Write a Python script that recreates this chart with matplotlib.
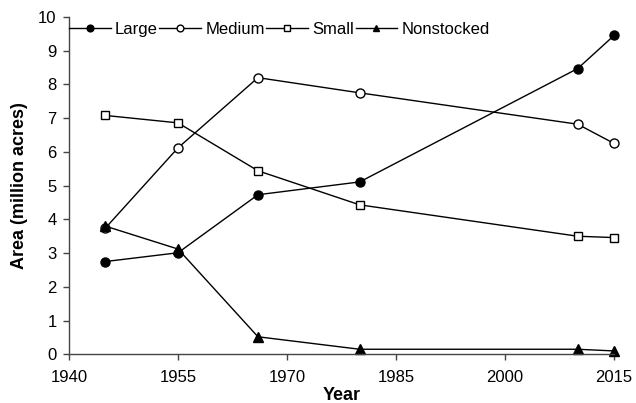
import matplotlib
matplotlib.use("Agg")
import matplotlib.pyplot as plt

plt.rcParams['font.family'] = ['Liberation Sans', 'DejaVu Sans']

years = [1945, 1955, 1966, 1980, 2010, 2015]
large = [2.75, 3.01, 4.73, 5.11, 8.47, 9.45]
medium = [3.74, 6.12, 8.2, 7.75, 6.82, 6.25]
small = [7.08, 6.86, 5.44, 4.43, 3.5, 3.46]
nonstocked = [3.8, 3.12, 0.52, 0.15, 0.15, 0.1]

fig = plt.figure(figsize=(6.36, 4.03), dpi=100)
ax = fig.add_axes([0.1085, 0.1208, 0.857, 0.8372])

kw = dict(color="black", lw=1, mec="black", mew=1, clip_on=False)
ax.plot(years, large, marker="o", ms=6.5, mfc="black", label="Large", **kw)
ax.plot(years, medium, marker="o", ms=6.5, mfc="white", label="Medium", **kw)
ax.plot(years, small, marker="s", ms=5.5, mfc="white", label="Small", **kw)
ax.plot(years, nonstocked, marker="^", ms=6.5, mfc="black", label="Nonstocked", **kw)

ax.set_xlim(1940, 2015)
ax.set_ylim(0, 10)
ax.set_xticks(range(1940, 2016, 15))
ax.set_yticks(range(0, 11))
ax.tick_params(labelsize=12, length=4, width=1, color="#444444")
ax.tick_params(axis="x", pad=7)
ax.tick_params(axis="y", pad=5)
for s in ["top", "right"]:
    ax.spines[s].set_visible(False)
for s in ["left", "bottom"]:
    ax.spines[s].set_color("#444444")
    ax.spines[s].set_linewidth(1)

ax.set_xlabel("Year", fontsize=13, fontweight="bold", labelpad=2)
ax.set_ylabel("Area (million acres)", fontsize=13, fontweight="bold", labelpad=7)

ax.legend(loc="center left", ncol=4, frameon=False, fontsize=12, handlelength=2.5,
          handletextpad=0.25, columnspacing=0.1, markerscale=0.75,
          bbox_to_anchor=(0.0, 0.962), borderaxespad=0, borderpad=0)

fig.savefig("out.png", dpi=100)
